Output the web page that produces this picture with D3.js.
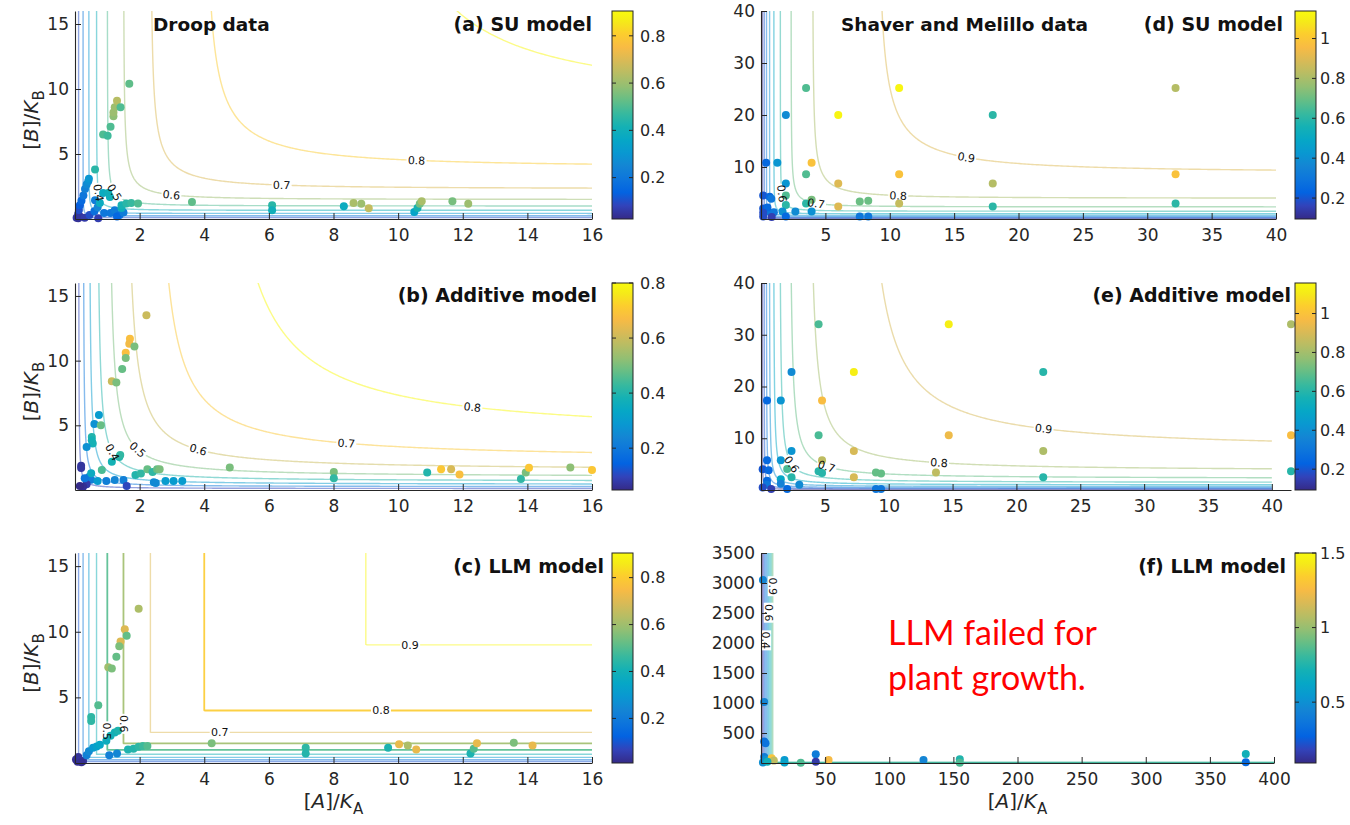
<!DOCTYPE html>
<html><head><meta charset="utf-8">
<script src="https://cdn.jsdelivr.net/npm/d3@7/dist/d3.min.js"></script>
<style>
body{margin:0;background:#fff}
svg{display:block}
text{font-family:"DejaVu Sans","Liberation Sans",Arial,sans-serif;fill:#262626}
</style></head>
<body><svg id="chart" width="1350" height="825"></svg>
<script>
// ---------------- DATA ----------------
// points: [A/K_A, B/K_B, observed value]
const droopSU = [
[0.05,0.1,0.05],[0.1,0.05,0.04],[0.1,0.4,0.06],[0.15,0.2,0.05],[0.12,0.7,0.1],[0.15,1.06,0.13],[0.2,1.4,0.16],[0.26,1.8,0.2],[0.31,2.3,0.23],[0.36,2.65,0.26],[0.41,2.9,0.28],[0.43,3.1,0.3],[0.62,3.8,0.45],
[0.3,0.1,0.06],[0.45,0.3,0.1],[0.6,0.6,0.18],[0.62,1.44,0.22],[0.7,0.9,0.25],
[0.72,0.05,0.07],[0.9,0.46,0.2],[1.1,0.46,0.2],[1.23,0.68,0.22],[1.38,0.3,0.18],[1.3,0.2,0.15],[1.5,0.5,0.22],
[0.77,1.23,0.38],[0.87,2.0,0.38],[1.03,2.0,0.4],[1.08,1.7,0.4],[1.44,0.85,0.4],[1.44,1.06,0.42],[1.59,1.19,0.45],[1.74,1.24,0.47],[1.95,1.19,0.5],
[0.87,6.5,0.5],[1.01,6.4,0.48],[1.1,7.1,0.5],[1.19,7.9,0.58],[1.19,8.2,0.6],[1.23,8.6,0.6],[1.3,9.1,0.64],[1.41,8.6,0.5],[1.68,10.4,0.52],
[3.62,1.31,0.52],[6.1,1.05,0.45],[6.1,0.67,0.4],[8.32,0.98,0.38],[8.62,1.23,0.62],[8.86,1.18,0.6],[9.09,0.82,0.66],[10.5,0.54,0.35],[10.6,0.85,0.42],[10.67,1.18,0.55],[10.73,1.36,0.62],[11.68,1.36,0.55],[12.17,1.18,0.6]
];
const droopAdd = [
[2.21,13.5,0.6],[1.70,11.7,0.68],[1.68,11.3,0.66],[1.84,11.1,0.5],[1.57,10.6,0.68],[1.57,10.2,0.5],[1.46,9.36,0.48],[1.14,8.4,0.6],[1.28,8.3,0.5],
[0.74,5.8,0.3],[0.6,5.1,0.27],[0.8,5.0,0.48],[0.52,4.1,0.4],[0.52,3.85,0.38],[0.55,3.6,0.38],[0.36,3.33,0.27],[0.19,1.87,0.07],[0.19,1.7,0.07],
[1.14,2.18,0.38],[1.37,2.56,0.4],[1.4,2.7,0.42],[0.83,1.54,0.45],[0.43,1.0,0.25],[0.5,0.8,0.22],[0.36,0.44,0.08],[0.25,0.25,0.06],[0.15,0.3,0.05],
[0.5,1.3,0.35],[0.7,0.7,0.3],[0.3,0.9,0.2],
[0.97,0.69,0.22],[1.23,0.77,0.24],[1.5,0.77,0.22],[1.6,0.31,0.1],[1.87,1.15,0.4],[2.04,1.28,0.42],[2.24,1.6,0.48],[2.4,1.4,0.42],[2.54,1.6,0.48],[2.62,1.6,0.5],
[2.44,0.6,0.25],[2.5,0.55,0.25],[2.8,0.7,0.3],[3.05,0.7,0.3],[3.32,0.7,0.3],
[4.79,1.74,0.5],[8.01,1.4,0.5],[8.01,0.9,0.42],[10.9,1.36,0.4],[11.33,1.6,0.7],[11.64,1.6,0.62],[11.9,1.2,0.68],[13.8,0.85,0.42],[13.95,1.36,0.5],[14.05,1.72,0.7],[15.33,1.74,0.52],[16.0,1.54,0.7]
];
const droopLLM = [
[1.97,11.76,0.62],[1.54,10.2,0.7],[1.6,9.7,0.52],[1.41,9.25,0.7],[1.37,8.9,0.55],[1.28,8.1,0.52],[1.03,7.3,0.6],[1.14,7.2,0.55],[0.72,4.4,0.5],[0.5,3.5,0.45],[0.5,3.2,0.45],
[0.03,0.26,0.02],[0.08,0.1,0.02],[0.15,0.2,0.03],[0.25,0.15,0.03],[0.1,0.45,0.03],[0.2,0.05,0.02],
[0.36,0.6,0.22],[0.43,0.9,0.25],[0.56,1.16,0.3],[0.67,1.25,0.33],[0.77,1.4,0.35],[0.97,1.7,0.38],[1.1,2.07,0.4],[1.23,2.33,0.4],[1.33,2.45,0.42],
[1.06,0.6,0.22],[1.3,0.72,0.24],[1.64,1.03,0.42],[1.81,1.08,0.43],[1.97,1.24,0.45],[2.1,1.3,0.47],[2.24,1.3,0.5],
[4.23,1.5,0.55],[7.14,1.16,0.45],[7.14,0.72,0.43],[9.69,1.16,0.42],[10.03,1.42,0.72],[10.3,1.34,0.62],[10.56,1.03,0.72],
[12.24,0.72,0.42],[12.34,1.08,0.5],[12.44,1.5,0.72],[13.58,1.55,0.55],[14.16,1.34,0.72]
];
const smSU = [
[3.5,25.2,0.66],[10.73,25.2,1.12],[32.2,25.2,0.82],
[1.93,20,0.38],[6.0,20,1.12],[18.0,20,0.6],
[0.4,10.8,0.25],[1.27,10.8,0.42],[3.93,10.8,0.98],
[3.5,8.6,0.66],[10.73,8.6,0.98],[32.2,8.6,0.98],
[1.93,6.85,0.42],[6.0,6.85,0.9],[18.0,6.85,0.82],
[0.17,4.5,0.2],[0.67,4.3,0.25],[0.8,3.9,0.3],[1.93,4.5,0.66],[3.93,3.68,0.72],
[3.5,3.0,0.6],[6.0,2.4,0.9],[7.67,3.36,0.7],[8.33,3.5,0.7],[10.73,3.0,0.85],[18.0,2.4,0.6],[32.2,3.0,0.6],
[1.93,2.7,0.6],[0.5,1.46,0.3],[1.0,1.3,0.3],[1.67,1.46,0.4],[2.67,1.46,0.38],[3.93,1.46,0.4],[0.17,2.0,0.2],[0.5,2.2,0.25],
[0.17,0.5,0.18],[0.83,0.4,0.15],[1.93,0.5,0.25],[7.67,0.5,0.3],[8.33,0.5,0.3],[0.17,1.2,0.18]
];
const smAdd = [
[4.51,32.05,0.66],[14.7,32.05,1.12],[41.5,32.05,0.82],
[2.39,22.8,0.38],[7.27,22.8,1.12],[22.1,22.8,0.6],
[0.47,17.3,0.25],[1.55,17.3,0.42],[4.78,17.3,0.98],
[4.51,10.6,0.66],[14.7,10.6,0.95],[41.5,10.6,0.98],
[2.39,7.56,0.42],[7.27,7.56,0.9],[22.1,7.56,0.82],
[0.47,5.77,0.25],[1.55,5.77,0.42],[4.78,5.77,0.85],
[0.13,4.0,0.2],[0.6,3.8,0.25],[2.05,4.04,0.66],[4.51,3.6,0.6],[4.78,3.3,0.6],
[9.0,3.4,0.7],[9.4,3.2,0.7],[13.7,3.4,0.85],[41.5,3.6,0.6],
[2.39,2.44,0.6],[7.27,2.44,0.9],[22.1,2.44,0.6],[1.55,2.1,0.5],[0.47,1.8,0.25],
[3.0,1.0,0.38],[0.47,1.0,0.3],[1.55,1.2,0.35],
[0.13,0.5,0.18],[0.8,0.2,0.15],[2.05,0.2,0.25],[9.0,0.2,0.3],[9.4,0.2,0.3]
];
const smLLM = [
[1.5,3050,0.45],[2.5,1015,0.45],[2.5,360,0.35],[3.5,330,0.35],[2.5,100,0.4],[4,60,0.5],[8.3,80,1.3],[10,40,1.1],
[18.3,50,0.55],[18.3,10,0.6],[31,5,0.85],[42.7,146,0.4],[42.7,22,0.15],[52.7,50,1.25],[126.7,50,0.45],
[155,62,0.75],[155,6,0.85],[378,150,0.7],[378,11,0.3],[1.5,10,0.5],[5,20,0.7]
];

const panelPoints = [droopSU, droopAdd, droopLLM, smSU, smAdd, smLLM];
const panelTitles = ["(a) SU model","(b) Additive model","(c) LLM model","(d) SU model","(e) Additive model","(f) LLM model"];
const datasetTitles = ["Droop data","","","Shaver and Melillo data","",""];
const modelTypes = ["SU","MULT","LLM","SU","MULT","LLM"];
const muMax = [1,1,1,1,1.02,50];
const halfSat = [1,1,1,1,1,500];
const xDomains = [[0,16],[0,16],[0,16],[0,40],[0,41.5],[0,400]];
const yDomains = [[0,16],[0,16],[0,16],[0,40],[0,40],[0,3500]];
const gridMax = [[16,16],[16,16],[16,16],[40,40],[40,40],[400,3500]];
const xTickVals = [[2,4,6,8,10,12,14,16],[2,4,6,8,10,12,14,16],[2,4,6,8,10,12,14,16],
  [5,10,15,20,25,30,35,40],[5,10,15,20,25,30,35,40],[50,100,150,200,250,300,350,400]];
const yTickVals = [[5,10,15],[5,10,15],[5,10,15],[10,20,30,40],[10,20,30,40],[500,1000,1500,2000,2500,3000,3500]];
const colorRanges = [[0.025,0.905],[0.048,0.8],[0.01,0.905],[0.095,1.138],[0.093,1.157],[0.092,1.5]];
const colorTicks = [[0.2,0.4,0.6,0.8],[0.2,0.4,0.6,0.8],[0.2,0.4,0.6,0.8],[0.2,0.4,0.6,0.8,1],[0.2,0.4,0.6,0.8,1],[0.5,1,1.5]];
const contourLevels = [0.1,0.2,0.3,0.4,0.5,0.6,0.7,0.8,0.9];
const strongLevelsLLM = [0.5,0.6,0.8];
// contour labels: [level, approx A, approx B]
const contourLabels = [
  [[0.4,0.7,2.0],[0.5,1.17,1.95],[0.6,3.0,1.85],[0.7,6.4,2.55],[0.8,10.6,4.35]],
  [[0.4,0.87,2.5],[0.5,1.64,2.3],[0.6,3.74,2.3],[0.7,8.4,3.55],[0.8,12.3,6.1]],
  [[0.5,1.0,2.4],[0.6,1.5,3.0],[0.7,4.5,2.4],[0.8,9.5,4.0],[0.9,10.4,9.0]],
  [[0.6,1.55,4.9],[0.7,4.3,3.0],[0.8,10.7,4.3],[0.9,16,12]],
  [[0.6,1.6,3.6],[0.7,4.9,2.8],[0.8,13.9,4.2],[0.9,22.0,10.3]],
  [[0.9,9,2950],[0.6,6,2500],[0.4,4,2050]]
];
// parula colormap (every 4th entry of the 64-step map)
const parulaStops = ["#352a87","#3243ba","#0363e1","#0d75dc","#1485d4","#0998d1","#06a7c6","#15b1b4",
  "#38b99e","#65be86","#92bf73","#b7bd64","#d9ba56","#f8bb44","#fccd2e","#f5eb18","#f9fa0e"];
const parulaPos = [0,4,8,12,16,20,24,28,32,36,40,44,48,52,56,60,63].map(i=>i/63);

// ---------------- LAYOUT ----------------
const plotLeft  = [75,75,75,761,761,761];
const plotRight = [592,592,592,1276,1291,1274];
const rowTop = [11,283,553], rowBottom = [219,490,763];
const cbX = [[612,633],[1295,1316]];
const cbLabelGap = [7,4];
const titleRight = [592,597,604,1283,1291,1286];
const titleBase = [31,302,573];
const datasetTitleX = [153,0,0,841,0,0];

// ---------------- HELPERS ----------------
const parulaScale = d3.scaleLinear().domain(parulaPos).range(parulaStops).clamp(true);
function colorOf(v, r){ return parulaScale((v-r[0])/(r[1]-r[0])); }
function model(type, mu, K, a, b){
  if(a<=0||b<=0) return 0;
  const A=a/K, B=b/K;
  if(type==="SU") return mu/(1+1/A+1/B-1/(A+B));
  if(type==="MULT") return mu*A/(1+A)*B/(1+B);
  return mu*Math.min(A/(1+A), B/(1+B));
}
function interpIdx(arr, c){
  let idx = c-0.5;
  if(idx<=0) return arr[0];
  if(idx>=arr.length-1) return arr[arr.length-1];
  const i0=Math.floor(idx), t=idx-i0;
  return arr[i0]+t*(arr[i0+1]-arr[i0]);
}

const svg = d3.select("#chart");
const defs = svg.append("defs");
const grad = defs.append("linearGradient").attr("id","parulaGrad")
  .attr("x1",0).attr("y1",1).attr("x2",0).attr("y2",0);
parulaStops.forEach((c,i)=>grad.append("stop").attr("offset",parulaPos[i]).attr("stop-color",c));

const N = 400;
for(let p=0;p<6;p++){
  const col = p<3?0:1, row = p%3;
  const x = d3.scaleLinear().domain(xDomains[p]).range([plotLeft[p], plotRight[p]]);
  const y = d3.scaleLinear().domain(yDomains[p]).range([rowBottom[row], rowTop[row]]);
  const g = svg.append("g");
  const cr = colorRanges[p];

  const gx = gridMax[p][0], gy = gridMax[p][1];
  defs.append("clipPath").attr("id","clip"+p).append("rect")
    .attr("x", x(0)-2).attr("y", y(gy)).attr("width", x(gx)-x(0)+2).attr("height", y(0)-y(gy)+2);

  const xs = d3.range(N).map(i=>gx*1.04*Math.pow(i/(N-1),2));
  const ys = d3.range(N).map(i=>gy*1.04*Math.pow(i/(N-1),2));
  const values = new Float64Array(N*N);
  for(let j=0;j<N;j++) for(let i=0;i<N;i++) values[j*N+i]=model(modelTypes[p],muMax[p],halfSat[p],xs[i],ys[j]);
  const contours = d3.contours().size([N,N]).thresholds(contourLevels)(values);
  const cg = g.append("g").attr("clip-path","url(#clip"+p+")");
  const ringsByLevel = {};
  contours.forEach(c=>{
    const rings=[];
    c.coordinates.forEach(poly=>poly.forEach(ring=>{
      rings.push(ring.map(pt=>[interpIdx(xs,pt[0]), interpIdx(ys,pt[1])]));
    }));
    ringsByLevel[c.value.toFixed(2)] = rings;
    const strong = (p===2 && strongLevelsLLM.some(l=>Math.abs(l-c.value)<1e-6));
    rings.forEach(r=>{
      cg.append("path")
        .attr("d", d3.line().x(d=>x(d[0])).y(d=>y(d[1]))(r))
        .attr("fill","none")
        .attr("stroke", colorOf(c.value, cr))
        .attr("stroke-opacity", strong?0.9:0.5)
        .attr("stroke-width", strong?1.8:1.4)
        .attr("stroke-linejoin","round");
    });
  });

  const labelInfo = contourLabels[p].map(([lev,la,lb])=>{
    const rings = ringsByLevel[lev.toFixed(2)]||[];
    const tx=x(la), ty=y(lb);
    let best=null, bd=Infinity;
    rings.forEach(r=>{
      const px = r.map(d=>[x(d[0]),y(d[1]),d[0],d[1]]);
      px.forEach((q,k)=>{
        if(q[2]>gx||q[3]>gy) return;
        const dd=(q[0]-tx)**2+(q[1]-ty)**2;
        if(dd<bd){bd=dd;best={px,k};}
      });
    });
    if(!best) return null;
    const k=best.k, pts=best.px;
    const a=pts[Math.max(0,k-4)], b=pts[Math.min(pts.length-1,k+4)];
    let ang=Math.atan2(b[1]-a[1], b[0]-a[0])*180/Math.PI;
    if(ang>90) ang-=180; if(ang<=-90) ang+=180;
    return {x:pts[k][0], y:pts[k][1], ang, text:String(lev)};
  }).filter(d=>d);
  labelInfo.forEach(l=>{
    g.append("rect").attr("x",-10).attr("y",-5).attr("width",20).attr("height",10)
      .attr("fill","#fff")
      .attr("transform",`translate(${l.x},${l.y}) rotate(${l.ang})`);
  });

  g.append("g").selectAll("circle").data(panelPoints[p]).join("circle")
    .attr("cx",d=>x(d[0])).attr("cy",d=>y(d[1])).attr("r",4)
    .attr("fill",d=>colorOf(d[2],cr));

  labelInfo.forEach(l=>{
    g.append("text").attr("transform",`translate(${l.x},${l.y}) rotate(${l.ang})`)
      .attr("text-anchor","middle").attr("dy","0.36em")
      .style("font-size","11px").style("fill","#111").text(l.text);
  });

  const fmt = d=>String(d);
  const ax = g.append("g").attr("transform",`translate(0,${rowBottom[row]})`)
    .call(d3.axisBottom(x).tickValues(xTickVals[p]).tickFormat(fmt).tickSizeInner(-6).tickSizeOuter(0).tickPadding(10));
  const ay = g.append("g").attr("transform",`translate(${plotLeft[p]},0)`)
    .call(d3.axisLeft(y).tickValues(yTickVals[p]).tickFormat(fmt).tickSizeInner(-6).tickSizeOuter(0).tickPadding(6));
  [ax,ay].forEach(a=>{
    a.select(".domain").attr("stroke","#262626").attr("stroke-width",1.1);
    a.selectAll(".tick line").attr("stroke","#262626");
    a.selectAll(".tick text").style("font-size","17px").style("font-family","'DejaVu Sans'").attr("fill","#262626");
  });

  const cx0=cbX[col][0], cx1=cbX[col][1];
  const cy = d3.scaleLinear().domain(cr).range([rowBottom[row], rowTop[row]]);
  g.append("rect").attr("x",cx0).attr("y",rowTop[row]).attr("width",cx1-cx0).attr("height",rowBottom[row]-rowTop[row])
    .attr("fill","url(#parulaGrad)").attr("stroke","#262626").attr("stroke-width",1);
  colorTicks[p].forEach(t=>{
    g.append("line").attr("x1",cx1-4).attr("x2",cx1).attr("y1",cy(t)).attr("y2",cy(t)).attr("stroke","#262626");
    g.append("line").attr("x1",cx0).attr("x2",cx0+4).attr("y1",cy(t)).attr("y2",cy(t)).attr("stroke","#262626");
    g.append("text").attr("x",cx1+cbLabelGap[col]).attr("y",cy(t)).attr("dy","0.36em")
      .style("font-size","16px").text(String(t));
  });

  g.append("text").attr("x",titleRight[p]).attr("y",titleBase[row]).attr("text-anchor","end")
    .style("font-size","19px").style("font-weight","bold").style("fill","#111").text(panelTitles[p]);
  if(datasetTitles[p]) g.append("text").attr("x",datasetTitleX[p]).attr("y",titleBase[row])
    .style("font-size","18.5px").style("font-weight","bold").style("fill","#111").text(datasetTitles[p]);

  if(col===0){
    const t = g.append("text").attr("transform",`translate(38,${(rowTop[row]+rowBottom[row])/2+5}) rotate(-90)`)
      .attr("text-anchor","middle").style("font-size","20px");
    t.append("tspan").text("[");
    t.append("tspan").style("font-style","italic").text("B");
    t.append("tspan").text("]/");
    t.append("tspan").style("font-style","italic").text("K");
    t.append("tspan").attr("dy",6).style("font-size","15px").text("B");
  }
  if(row===2){
    const t = g.append("text").attr("x",(plotLeft[p]+plotRight[p])/2).attr("y",808)
      .attr("text-anchor","middle").style("font-size","20px");
    t.append("tspan").text("[");
    t.append("tspan").style("font-style","italic").text("A");
    t.append("tspan").text("]/");
    t.append("tspan").style("font-style","italic").text("K");
    t.append("tspan").attr("dy",6).style("font-size","15px").text("A");
  }
}

const note = svg.append("text").style("font-family","Lato, 'Open Sans', sans-serif").style("font-size","34px").style("fill","#ff0000");
note.append("tspan").attr("x",888).attr("y",645).text("LLM failed for");
note.append("tspan").attr("x",888).attr("y",690).text("plant growth.");
</script>
</body></html>
